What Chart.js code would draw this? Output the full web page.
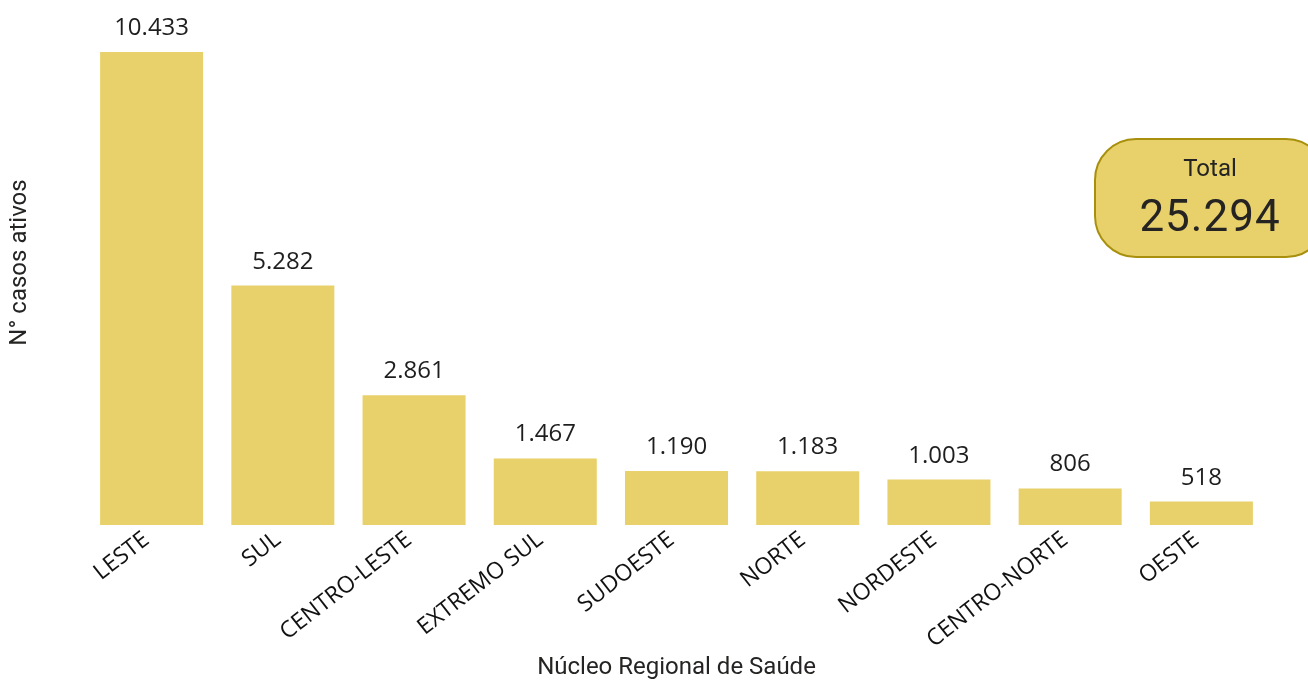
<!DOCTYPE html>
<html>
<head>
<meta charset="utf-8">
<script src="https://cdn.jsdelivr.net/npm/chart.js@4/dist/chart.umd.min.js"></script>
<style>
  html, body { margin: 0; padding: 0; background: #fff; overflow: hidden; }
  #wrap { position: relative; width: 1308px; height: 680px; }
  #card {
    position: absolute; left: 1094px; top: 138px; width: 230px; height: 116px;
    background: #E8D16A; border: 2px solid #A8900E; border-radius: 42px;
    font-family: 'Roboto', 'DejaVu Sans', sans-serif; color: #252423; text-align: center;
  }
  #card .t { position: absolute; left: 0; width: 228px; top: 14px; font-size: 24px; }
  #card .v { position: absolute; left: 0; width: 228px; top: 50px; font-size: 44px; letter-spacing: 1px; }
</style>
</head>
<body>
<div id="wrap">
  <canvas id="chart" width="1308" height="680"></canvas>
  <div id="card"><div class="t">Total</div><div class="v" id="total"></div></div>
</div>
<script>
  // regions and active cases
  const regions = ['LESTE', 'SUL', 'CENTRO-LESTE', 'EXTREMO SUL', 'SUDOESTE', 'NORTE', 'NORDESTE', 'CENTRO-NORTE', 'OESTE'];
  const activeCases = [10433, 5282, 2861, 1467, 1190, 1183, 1003, 806, 518];
  const totalCases = 25294;

  const BAR = '#E8D16A';
  const fmt = n => String(n).replace(/\B(?=(\d{3})+(?!\d))/g, '.');

  document.getElementById('total').textContent = fmt(totalCases);

  // value labels above bars
  const barLabels = {
    id: 'barLabels',
    afterDatasetsDraw(chart) {
      const ctx = chart.ctx;
      const meta = chart.getDatasetMeta(0);
      ctx.save();
      ctx.font = '24px "Open Sans", sans-serif';
      ctx.fillStyle = '#1e1e1e';
      ctx.textAlign = 'center';
      ctx.textBaseline = 'alphabetic';
      meta.data.forEach((bar, i) => {
        ctx.fillText(fmt(activeCases[i]), bar.x, bar.y - 17);
      });
      ctx.restore();
    }
  };

  new Chart(document.getElementById('chart'), {
    type: 'bar',
    data: {
      labels: regions,
      datasets: [{
        data: activeCases,
        backgroundColor: BAR,
        borderWidth: 0,
        categoryPercentage: 1,
        barPercentage: 0.785
      }]
    },
    options: {
      responsive: false,
      animation: false,
      layout: { padding: { top: 0, right: 41, bottom: 0, left: 0 } },
      plugins: { legend: { display: false }, tooltip: { enabled: false } },
      scales: {
        x: {
          grid: { display: false },
          border: { display: false },
          ticks: {
            color: '#111',
            font: { family: '"Open Sans", sans-serif', size: 23 },
            minRotation: 38, maxRotation: 38,
            autoSkip: false, padding: -7, labelOffset: -5
          },
          title: {
            display: true, text: 'Núcleo Regional de Saúde', color: '#252423',
            font: { family: 'Roboto, sans-serif', size: 24, lineHeight: 1 },
            padding: { top: 0, bottom: 0 }
          },
          afterFit: s => { s.height = 155; }
        },
        y: {
          min: 0, max: 11580,
          grid: { display: false },
          border: { display: false },
          ticks: { display: false },
          title: {
            display: true, text: 'N° casos ativos', color: '#252423',
            font: { family: 'Roboto, sans-serif', size: 24, lineHeight: 1 },
            padding: { top: 8, bottom: 0 }
          },
          afterFit: s => { s.width = 86; }
        }
      }
    },
    plugins: [barLabels]
  });
</script>
</body>
</html>
